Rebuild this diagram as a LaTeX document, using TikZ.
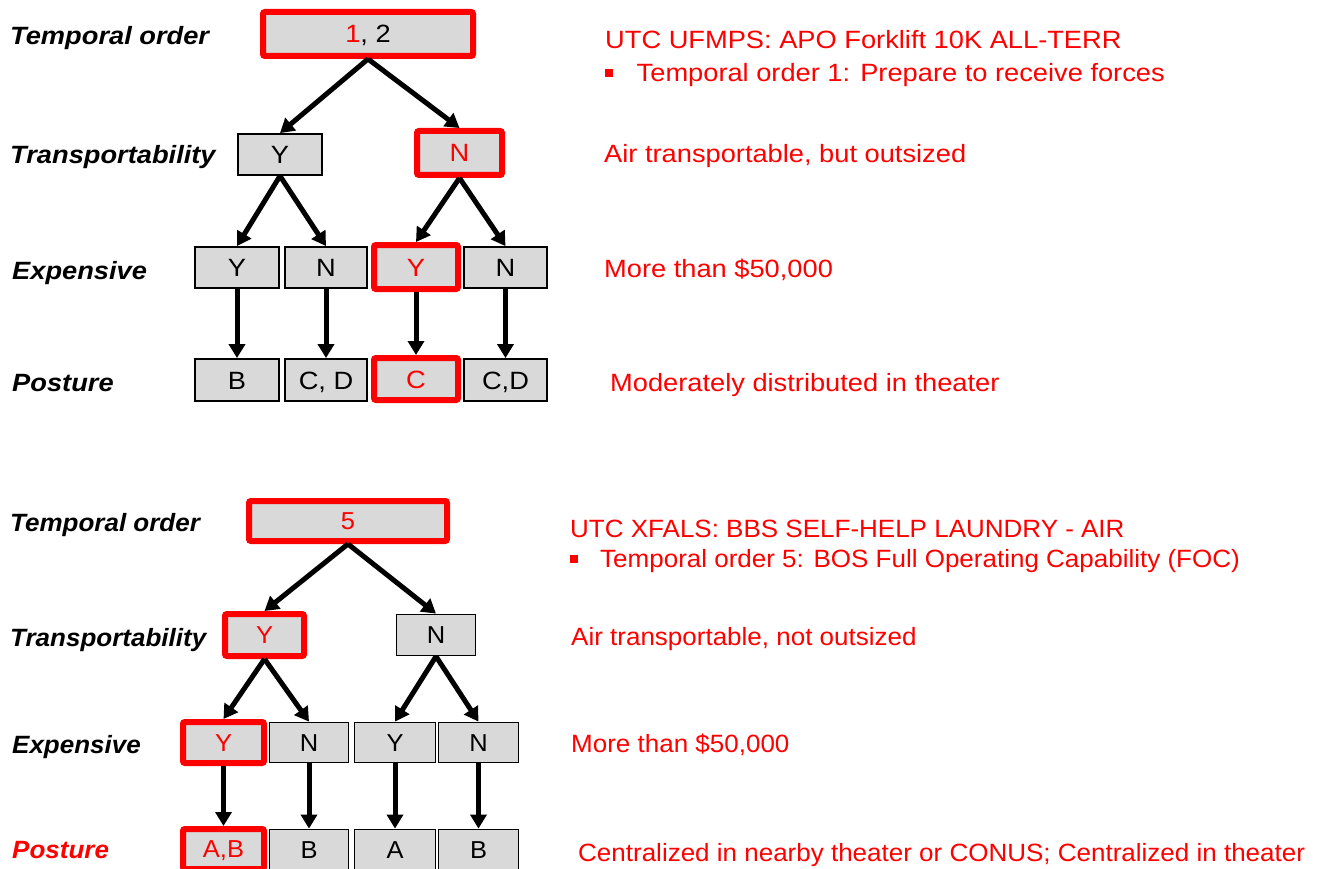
\documentclass[tikz,border=0pt]{standalone}
\usepackage{fontspec}
\setmainfont{Liberation Sans}
\newfontfamily\fA[FakeStretch=1.09]{Liberation Sans}
\newfontfamily\fB[FakeStretch=1.04]{Liberation Sans}
\usetikzlibrary{arrows.meta}
\definecolor{boxgray}{RGB}{217,217,217}
\definecolor{pred}{RGB}{255,0,0}
\begin{document}
\begin{tikzpicture}[x=1pt,y=-1pt,
  box/.style={draw=black, line width=1.8pt, fill=boxgray, inner sep=0pt,
    text height=18pt, text depth=0pt, align=center,
    font=\fontsize{25}{25}\fA},
  sbox/.style={box, text height=17.5pt, font=\fontsize{24.5}{24.5}\fB},
  hl/.style={draw=pred, line width=6pt, rounded corners=2pt, text=pred},
  arr/.style={line width=5pt, -{Triangle[length=14pt,width=16pt]}},
  lblA/.style={anchor=base west, inner sep=0pt, font=\fontsize{25}{25}\fA\bfseries\itshape},
  lblB/.style={anchor=base west, inner sep=0pt, font=\fontsize{25}{25}\fB\bfseries\itshape},
  rtA/.style={anchor=base west, inner sep=0pt, text=pred, font=\fontsize{25}{25}\fA},
  rtB/.style={anchor=base west, inner sep=0pt, text=pred, font=\fontsize{25}{25}\fB},
  bul/.style={fill=pred, inner sep=0pt, minimum size=8pt}
]
\useasboundingbox (0,0) rectangle (1325,869);

% ---------- top tree ----------
\node[lblA] (la1) at (10,44.3) {Temporal order};
\node[lblA] (la2) at (10,164) {Transportability};
\node[lblA] (la3) at (12,279) {Expensive};
\node[lblA] (la4) at (12,391) {Posture};

\node[box, hl, minimum width=210pt, minimum height=44pt, text=black] (t0) at (368,34) {{\color{pred}1}, 2};
\node[box, minimum width=84pt, minimum height=41pt] (t1Y) at (280,154.5) {Y};
\node[box, hl, minimum width=85pt, minimum height=44pt] (t1N) at (459.5,153) {N};

\node[box, minimum width=84pt, minimum height=41pt] (t2a) at (237,267.5) {Y};
\node[box, minimum width=82pt, minimum height=41pt] (t2b) at (326,267.5) {N};
\node[box, hl, minimum width=84pt, minimum height=44pt] (t2c) at (416,267) {Y};
\node[box, minimum width=83pt, minimum height=41pt] (t2d) at (505.5,267.5) {N};

\node[box, minimum width=84pt, minimum height=42pt] (t3a) at (237,380) {B};
\node[box, minimum width=82pt, minimum height=42pt] (t3b) at (326,380) {C, D};
\node[box, hl, minimum width=84pt, minimum height=42pt] (t3c) at (416,379) {C};
\node[box, minimum width=83pt, minimum height=42pt] (t3d) at (505.5,380) {C,D};

\draw[arr] (t0.south) -- (t1Y.north);
\draw[arr] (t0.south) -- (t1N.north);
\draw[arr] (t1Y.south) -- (t2a.north);
\draw[arr] (t1Y.south) -- (t2b.north);
\draw[arr] (t1N.south) -- (t2c.north);
\draw[arr] (t1N.south) -- (t2d.north);
\draw[arr] (t2a.south) -- (t3a.north);
\draw[arr] (t2b.south) -- (t3b.north);
\draw[arr] (t2c.south) -- (t3c.north);
\draw[arr] (t2d.south) -- (t3d.north);

\node[rtA] (ra1) at (605,48.5) {UTC UFMPS: APO Forklift 10K ALL-TERR};
\node[bul] (ba1) at (609,73) {};
\node[rtA] (ra2) at (636.5,82) {Temporal order 1: Prepare to receive forces};
\node[rtA] (ra3) at (604,163) {Air transportable, but outsized};
\node[rtA] (ra4) at (604,277) {More than \$50,000};
\node[rtA] (ra5) at (610,391) {Moderately distributed in theater};

% ---------- bottom tree ----------
\node[lblB] (lb1) at (10,531) {Temporal order};
\node[lblB] (lb2) at (10,646) {Transportability};
\node[lblB] (lb3) at (12,753) {Expensive};
\node[lblB, text=pred] (lb4) at (12,858) {Posture};

\node[sbox, hl, minimum width=198pt, minimum height=40pt] (b0) at (348,521) {5};
\node[sbox, hl, minimum width=79pt, minimum height=42pt] (b1Y) at (264.5,635) {Y};
\node[sbox, minimum width=79pt, minimum height=41pt] (b1N) at (436,635) {N};

\node[sbox, hl, minimum width=81pt, minimum height=41pt] (b2a) at (223.5,742.5) {Y};
\node[sbox, minimum width=79pt, minimum height=40pt] (b2b) at (309,742.5) {N};
\node[sbox, minimum width=81pt, minimum height=40pt] (b2c) at (395,742.5) {Y};
\node[sbox, minimum width=80pt, minimum height=40pt] (b2d) at (478.5,742.5) {N};

\node[sbox, hl, minimum width=81pt, minimum height=40pt] (b3a) at (223.5,849) {A,B};
\node[sbox, minimum width=79pt, minimum height=40pt] (b3b) at (309,849.5) {B};
\node[sbox, minimum width=81pt, minimum height=40pt] (b3c) at (395,849.5) {A};
\node[sbox, minimum width=80pt, minimum height=40pt] (b3d) at (478.5,849.5) {B};

\draw[arr] (b0.south) -- (b1Y.north);
\draw[arr] (b0.south) -- (b1N.north);
\draw[arr] (b1Y.south) -- (b2a.north);
\draw[arr] (b1Y.south) -- (b2b.north);
\draw[arr] (b1N.south) -- (b2c.north);
\draw[arr] (b1N.south) -- (b2d.north);
\draw[arr] (b2a.south) -- (b3a.north);
\draw[arr] (b2b.south) -- (b3b.north);
\draw[arr] (b2c.south) -- (b3c.north);
\draw[arr] (b2d.south) -- (b3d.north);

\node[rtB] (rb1) at (570,537) {UTC XFALS: BBS SELF-HELP LAUNDRY - AIR};
\node[bul] (bb1) at (574,559) {};
\node[rtB] (rb2) at (600,567.5) {Temporal order 5: BOS Full Operating Capability (FOC)};
\node[rtB] (rb3) at (571,645) {Air transportable, not outsized};
\node[rtB] (rb4) at (571,752) {More than \$50,000};
\node[rtB] (rb5) at (578,861) {Centralized in nearby theater or CONUS; Centralized in theater};
\end{tikzpicture}
\end{document}
